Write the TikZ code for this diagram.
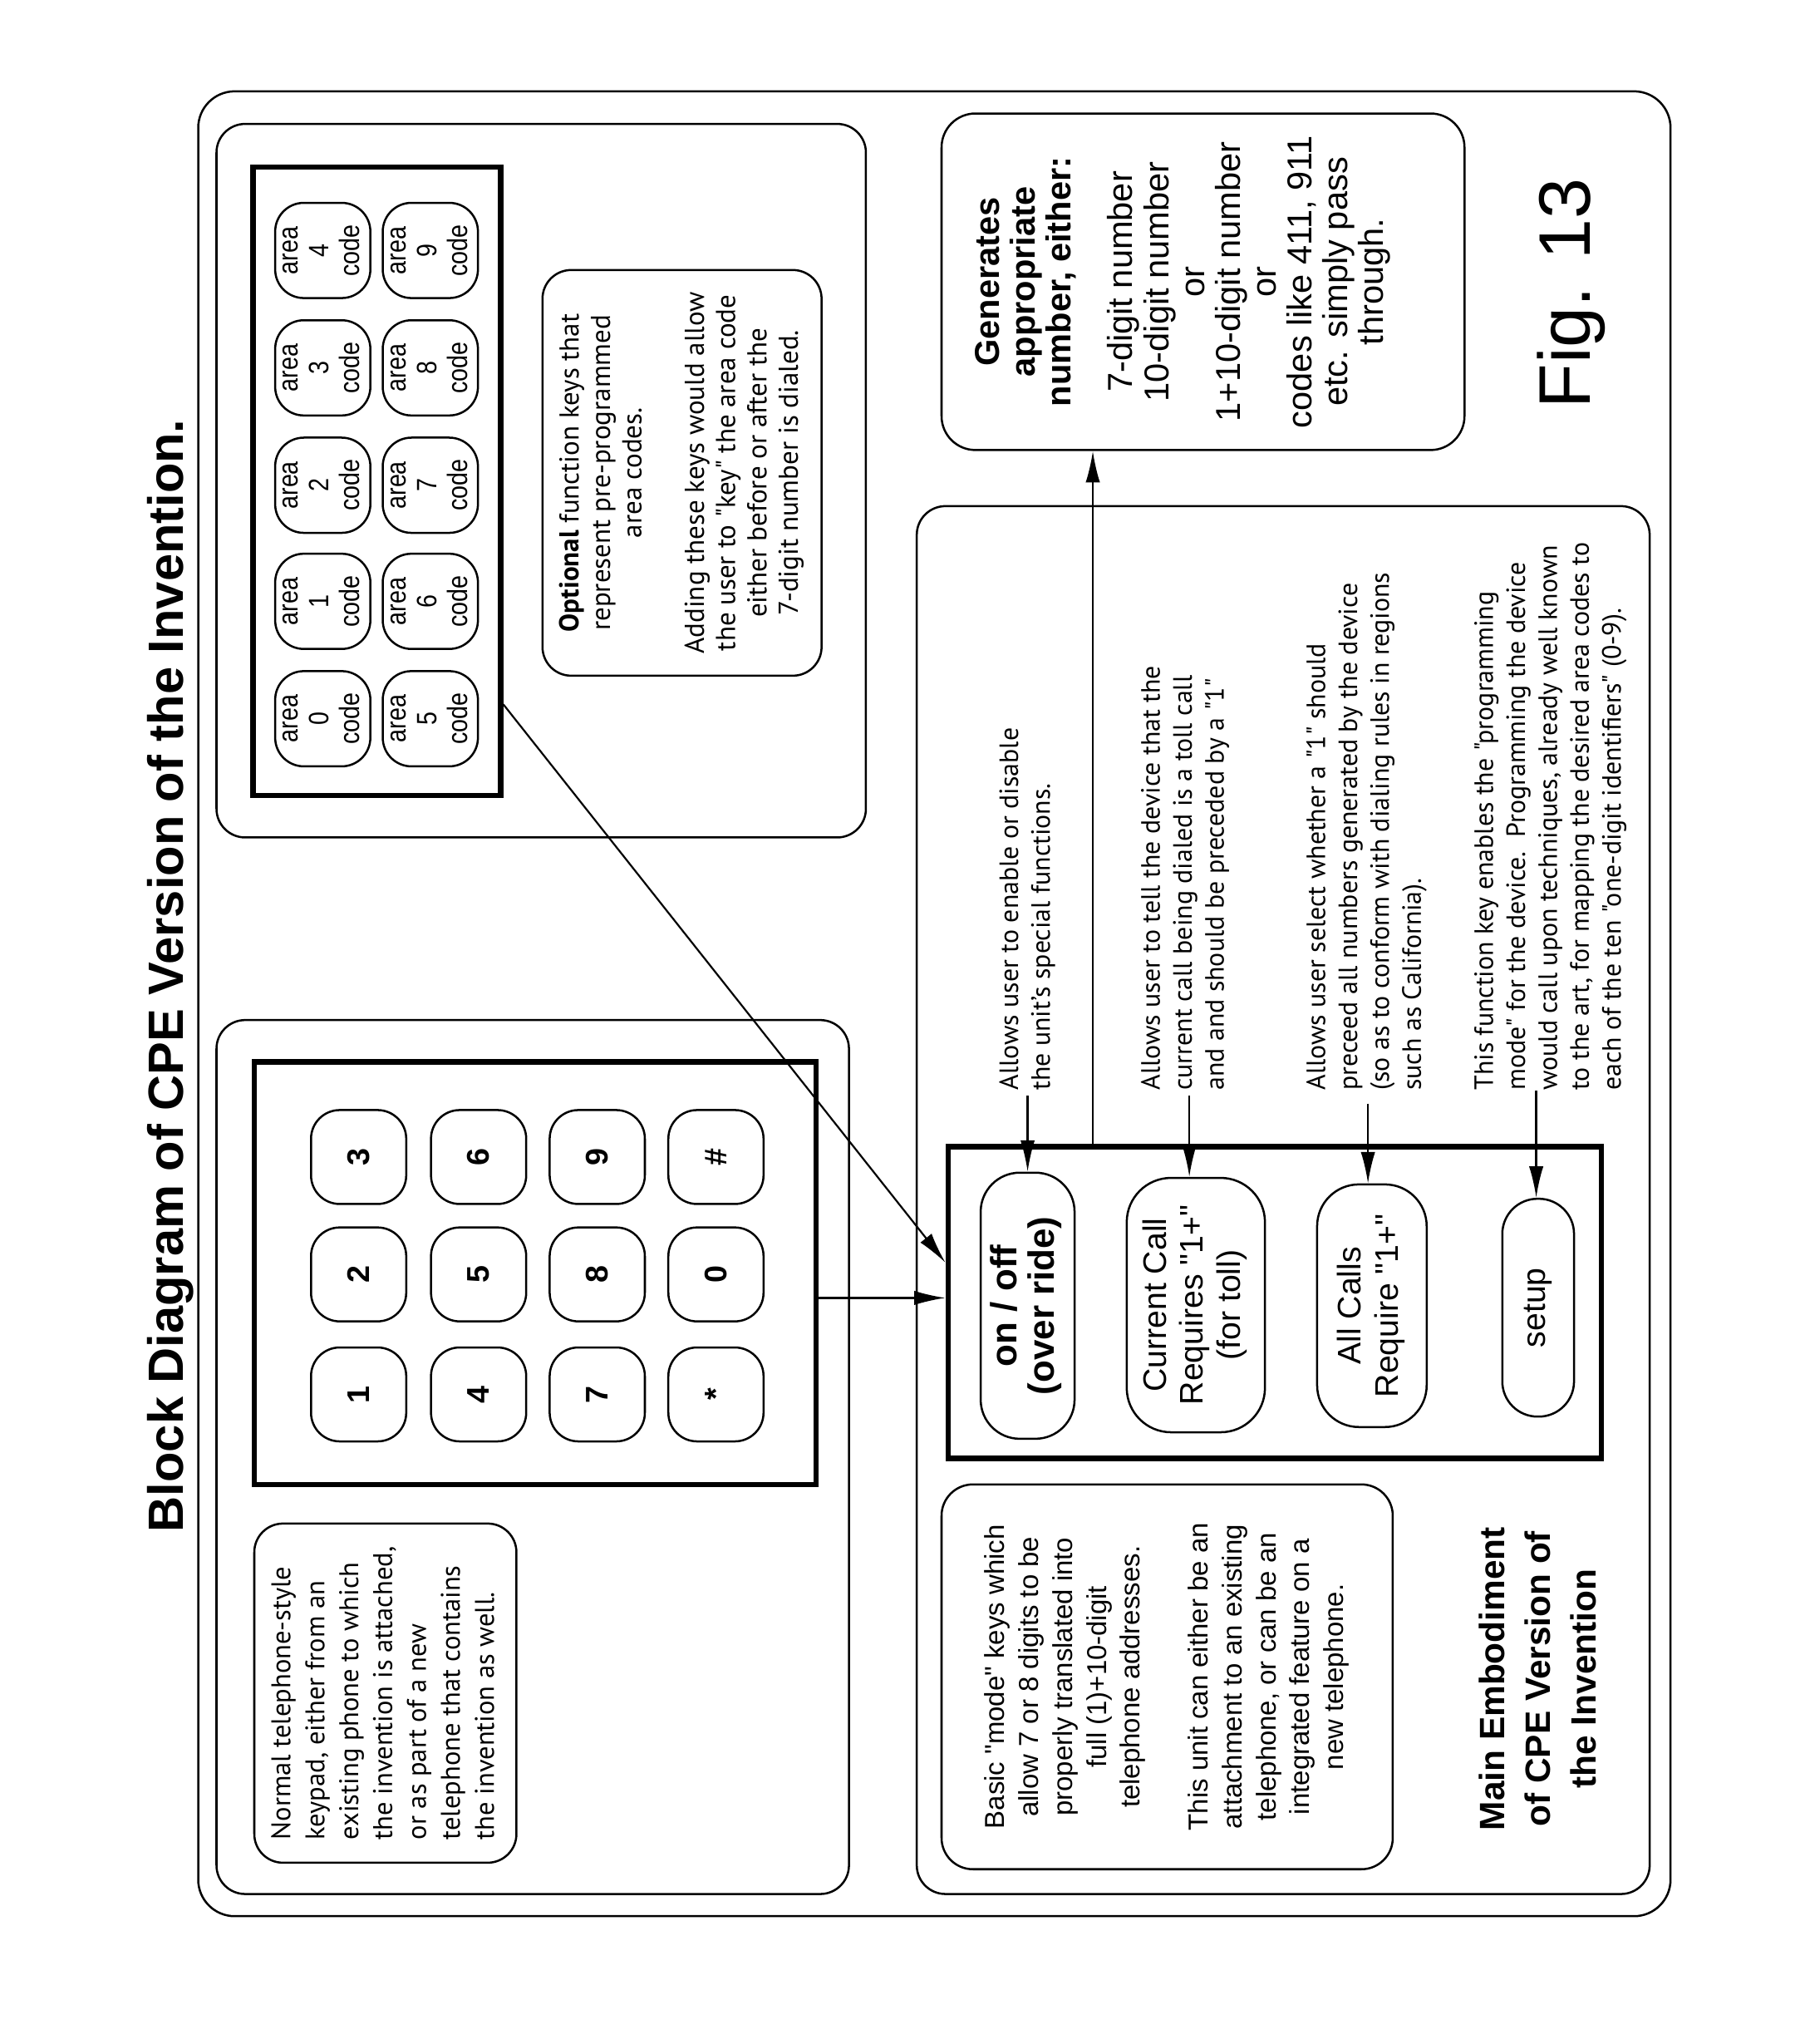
\documentclass[tikz,border=0pt]{standalone}
\usepackage{fontspec}
\setmainfont{Liberation Sans}[Ligatures=TeXOff]
\newfontfamily\hum{PT Sans}[Ligatures=TeXOff]
\newfontfamily\narr{Liberation Sans}[FakeStretch=0.85,Ligatures=TeXOff]
\usetikzlibrary{arrows.meta,fit}
\newcommand{\rotc}[1]{\rotatebox{90}{\begin{tabular}{@{}c@{}}#1\end{tabular}}}
\newcommand{\rotl}[1]{\rotatebox{90}{\begin{tabular}{@{}l@{}}#1\end{tabular}}}
\begin{document}
\begin{tikzpicture}[x=1pt,y=-1pt,
  rbox/.style={draw,line width=1.6pt,inner sep=0pt,rounded corners=#1},
  rbox/.default=22pt,
  tframe/.style={draw,line width=4pt,inner sep=0pt},
  dkey/.style={draw,line width=1.6pt,rounded corners=22pt,minimum width=73pt,minimum height=72pt,inner sep=0pt,font=\bfseries\fontsize{24}{28}\selectfont},
  akey/.style={draw,line width=1.6pt,rounded corners=22pt,minimum width=73pt,minimum height=73pt,inner sep=0pt,font=\narr\fontsize{21.5}{23.5}\selectfont},
  mkey/.style={draw,line width=1.6pt,inner sep=0pt},
  mtext/.style={font=\fontsize{25}{28.5}\selectfont},
  desc/.style={inner sep=0pt,anchor=south,font=\hum\fontsize{20.3}{24.5}\selectfont},
  arr/.style={line width=1.4pt,-{Latex[length=24pt,width=11pt]}},
  plain/.style={inner sep=0pt}
]
\useasboundingbox (0,0) rectangle (1380,1567);

% outer frame and title
\node[rbox=28pt, fit={(152,70)(1281,1469)}] (outer) {};
\node[plain, font=\bfseries\fontsize{38}{44}\selectfont] (title) at (131,748) {\rotatebox{90}{Block Diagram of CPE Version of the Invention.}};

% keypad panel
\node[rbox, fit={(166,782)(651,1452)}] (kpanel) {};
\node[tframe, fit={(195,814)(626,1138)}] (keypad) {};
\node[dkey] (k3) at (275,887) {\rotatebox{90}{3}};
\node[dkey] (k6) at (367,887) {\rotatebox{90}{6}};
\node[dkey] (k9) at (458,887) {\rotatebox{90}{9}};
\node[dkey] (khash) at (549,887) {\rotatebox{90}{\#}};
\node[dkey] (k2) at (275,977) {\rotatebox{90}{2}};
\node[dkey] (k5) at (367,977) {\rotatebox{90}{5}};
\node[dkey] (k8) at (458,977) {\rotatebox{90}{8}};
\node[dkey] (k0) at (549,977) {\rotatebox{90}{0}};
\node[dkey] (k1) at (275,1069) {\rotatebox{90}{1}};
\node[dkey] (k4) at (367,1069) {\rotatebox{90}{4}};
\node[dkey] (k7) at (458,1069) {\rotatebox{90}{7}};
\node[dkey] (kstar) at (549,1069) {\rotatebox{90}{*}};

\node[rbox, fit={(195,1168)(396,1428)}] (note) {};
\node[plain, font=\hum\fontsize{20.7}{26}\selectfont] (notetext) at (note.center) {\rotl{Normal telephone-style\\ keypad, either from an\\ existing phone to which\\ the invention is attached,\\ or as part of a new\\ telephone that contains\\ the invention as well.}};

% area code panel
\node[rbox, fit={(166,95)(664,642)}] (apanel) {};
\node[tframe, fit={(194,128)(384,610)}] (acframe) {};
\node[akey] (a4) at (247.5,192) {\rotc{area\\ 4\\ code}};
\node[akey] (a3) at (247.5,282) {\rotc{area\\ 3\\ code}};
\node[akey] (a2) at (247.5,372) {\rotc{area\\ 2\\ code}};
\node[akey] (a1) at (247.5,461) {\rotc{area\\ 1\\ code}};
\node[akey] (a0) at (247.5,551) {\rotc{area\\ 0\\ code}};
\node[akey] (a9) at (330,192) {\rotc{area\\ 9\\ code}};
\node[akey] (a8) at (330,282) {\rotc{area\\ 8\\ code}};
\node[akey] (a7) at (330,372) {\rotc{area\\ 7\\ code}};
\node[akey] (a6) at (330,461) {\rotc{area\\ 6\\ code}};
\node[akey] (a5) at (330,551) {\rotc{area\\ 5\\ code}};

\node[rbox, fit={(416,207)(630,518)}] (optbox) {};
\node[plain, font=\hum\fontsize{21}{24}\selectfont] (opttext) at (optbox.center) {\rotc{\textbf{Optional} function keys that\\ represent pre-programmed\\ area codes.\\ \\ Adding these keys would allow\\ the user to "key" the area code\\ either before or after the\\ 7-digit number is dialed.}};

% generates box
\node[rbox=26pt, fit={(722,87)(1123,345)}] (gen) {};
\node[plain, font=\fontsize{26.5}{27.5}\selectfont] (gentext) at (908,216) {\rotc{\textbf{Generates}\\ \textbf{appropriate}\\ \textbf{number, either:}\\[20pt] 7-digit number\\ 10-digit number\\ or\\ 1+10-digit number\\ or\\ codes like 411, 911\\ etc. simply pass\\ through.}};
\node[plain, font=\fontsize{56}{60}\selectfont] (fig) at (1205,225) {\rotatebox{90}{Fig. 13}};

% main panel
\node[rbox, fit={(703,388)(1265,1452)}] (mpanel) {};
\node[tframe, fit={(727,879)(1228,1118)}] (modeframe) {};
\node[mkey, rounded corners=30pt, minimum width=72pt, minimum height=204pt, font=\bfseries\fontsize{28}{27}\selectfont] (onoff) at (788,1001) {\rotc{on / off\\ (over ride)}};
\node[mkey, mtext, rounded corners=34pt, minimum width=106pt, minimum height=195pt] (curr) at (917,1000.5) {\rotc{Current Call\\ Requires "1+"\\ (for toll)}};
\node[mkey, mtext, rounded corners=32pt, minimum width=84pt, minimum height=186pt] (allc) at (1052,1001) {\rotc{All Calls\\ Require "1+"}};
\node[mkey, mtext, rounded corners=27pt, minimum width=55pt, minimum height=167pt] (setup) at (1179.5,1002.5) {\rotc{setup}};

\node[desc] (d1) at (788,836) {\rotl{Allows user to enable or disable\\ the unit’s special functions.}};
\node[desc] (d2) at (909,836) {\rotl{Allows user to tell the device that the\\ current call being dialed is a toll call\\ and and should be preceded by a "1"}};
\node[desc] (d3) at (1048,836) {\rotl{Allows user select whether a "1" should\\ preceed all numbers generated by the device\\ (so as to conform with dialing rules in regions\\ such as California).}};
\node[desc] (d4) at (1189,836) {\rotl{This function key enables the "programming\\ mode" for the device.\ \ Programming the device\\ would call upon techniques, already well known\\ to the art, for mapping the desired area codes to\\ each of the ten "one-digit identifiers" (0-9).}};

\node[rbox=24pt, fit={(722,1138)(1068,1433)}] (basic) {};
\node[plain, font=\fontsize{21}{26}\selectfont] (basictext) at (basic.center) {\rotc{Basic "mode" keys which\\ allow 7 or 8 digits to be\\ properly translated into\\ full (1)+10-digit\\ telephone addresses.\\ \\ This unit can either be an\\ attachment to an existing\\ telephone, or can be an\\ integrated feature on a\\ new telephone.}};
\node[plain, font=\bfseries\fontsize{27}{35}\selectfont] (memb) at (1182,1287) {\rotc{Main Embodiment\\ of CPE Version of\\ the Invention}};

% connectors
\coordinate (s1) at (788,840);
\coordinate (s2) at (912,840);
\coordinate (s3) at (1049,846);
\coordinate (s4) at (1178,836);
\draw[arr] (s1) -- (s1 |- onoff.north);
\draw[arr] (s2) -- (s2 |- curr.north);
\draw[arr] (s3) -- (s3 |- allc.north);
\draw[arr] (s4) -- (s4 |- setup.north);

\coordinate (vx) at (838,0);
\draw[arr] (vx |- modeframe.north) -- (vx |- gen.south);
\coordinate (hy) at (0,995);
\draw[arr] (keypad.east |- hy) -- (modeframe.west |- hy);
\coordinate (dgs) at (0,540);
\coordinate (dge) at (0,968);
\draw[arr] (acframe.east |- dgs) -- (modeframe.west |- dge);
\end{tikzpicture}
\end{document}
